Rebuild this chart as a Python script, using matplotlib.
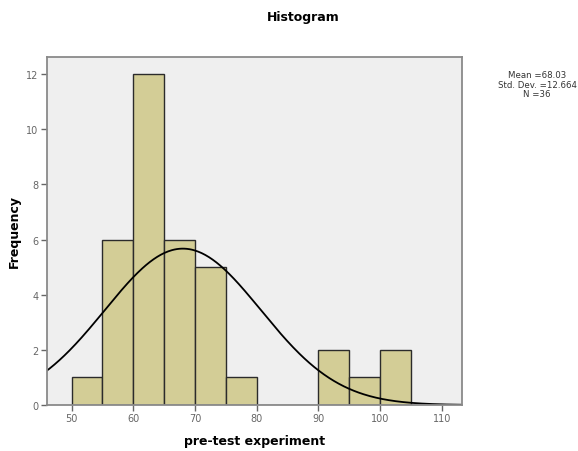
import matplotlib

matplotlib.use("Agg")
import matplotlib.pyplot as plt
import numpy as np

# histogram bins (width 5) and counts
bin_edges = [50, 55, 60, 65, 70, 75, 80, 85, 90, 95, 100, 105]
counts = [1, 6, 12, 6, 5, 1, 0, 0, 2, 1, 2]

# reported statistics for the normal curve
mean = 68.03
std = 12.664
n = 36
bin_width = 5

x_ticks = [50, 60, 70, 80, 90, 100, 110]
y_ticks = [0, 2, 4, 6, 8, 10, 12]

fig = plt.figure(figsize=(5.78, 4.52), dpi=100)
ax = fig.add_axes([47 / 578, 1 - 406 / 452, (462 - 47) / 578, (406 - 58) / 452])
ax.set_facecolor("#efefef")

lefts = bin_edges[:-1]
ax.bar(lefts, counts, width=bin_width, align="edge",
       color="#d3cd96", edgecolor="#2b2b2b", linewidth=1.0)

xs = np.linspace(40, 120, 400)
pdf = n * bin_width / (std * np.sqrt(2 * np.pi)) * np.exp(-0.5 * ((xs - mean) / std) ** 2)
ax.plot(xs, pdf, color="black", linewidth=1.3)

ax.set_xlim(46, 113.3)
ax.set_ylim(0, 12.62)
ax.set_xticks(x_ticks)
ax.set_yticks(y_ticks)
ax.tick_params(labelsize=7, colors="#666666", length=4, width=1.0, pad=2)
for s in ax.spines.values():
    s.set_color("#8a8a8a")
    s.set_linewidth(1.3)

ax.set_xlabel("pre-test experiment", fontsize=9, fontweight="bold", labelpad=8)
ax.set_ylabel("Frequency", fontsize=9, fontweight="bold", labelpad=4)

fig.text(303 / 578, 1 - 17 / 452, "Histogram", ha="center", va="center",
         fontsize=9, fontweight="bold")
fig.text(537 / 578, 1 - 85 / 452,
         f"Mean ={mean:.2f}\nStd. Dev. ={std:.3f}\nN ={n}",
         ha="center", va="center", fontsize=6.2, color="#333333", linespacing=1.08)

fig.savefig("out.png", dpi=100)
